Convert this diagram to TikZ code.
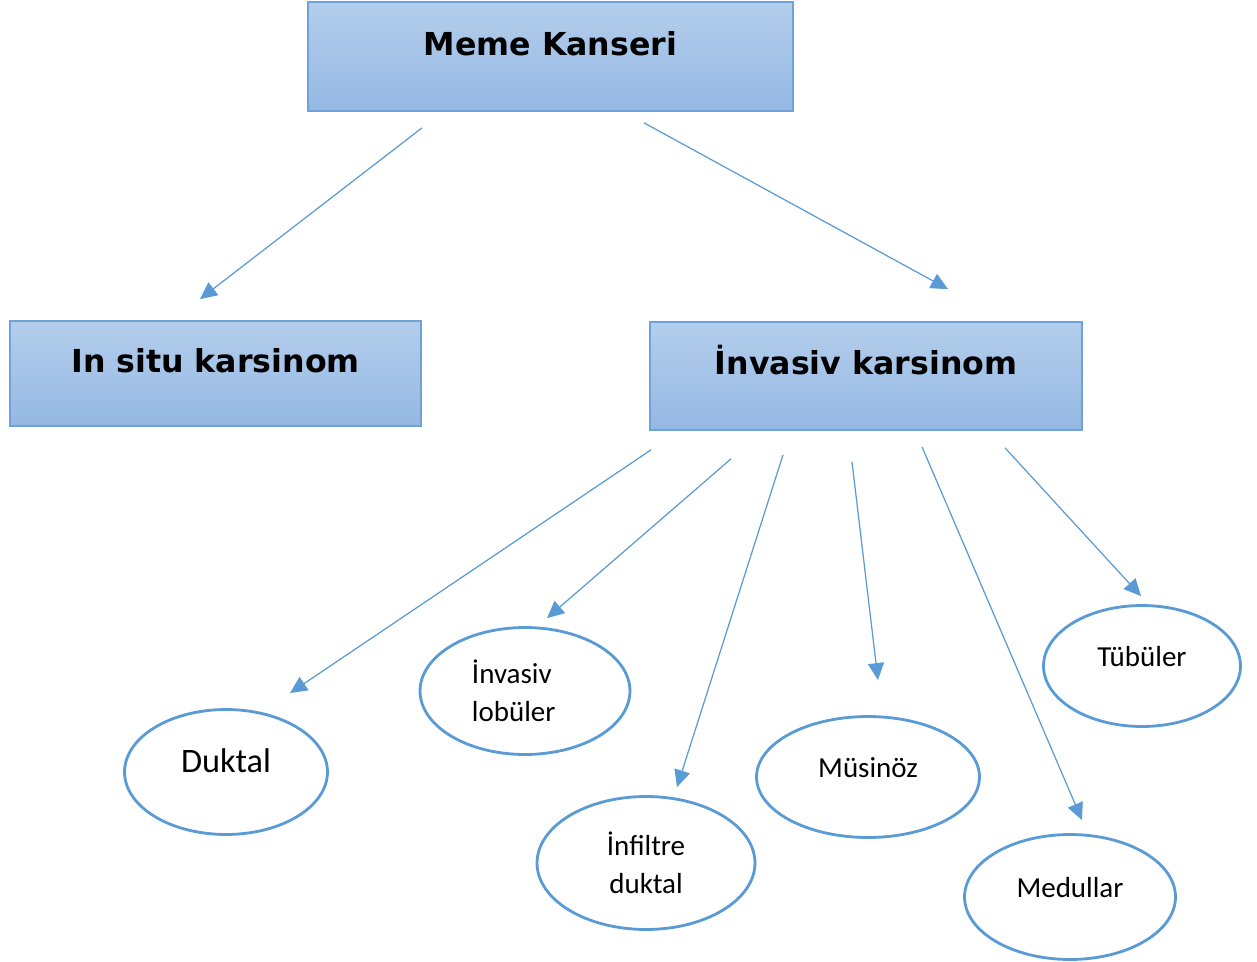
\documentclass[tikz,border=0pt]{standalone}
\usepackage{fontspec}
\usepackage{tikz}
\usetikzlibrary{arrows.meta,calc,shapes.geometric}
\newfontfamily\boxfont{DejaVu Sans}
\newfontfamily\ovalfont{Carlito}
\definecolor{lineblue}{HTML}{5B9BD5}
\definecolor{boxtop}{HTML}{B4CEEC}
\definecolor{boxbottom}{HTML}{94B8E3}
\definecolor{boxedge}{HTML}{6FA2D9}

\begin{document}
\begin{tikzpicture}[
        x=0.02cm, y=-0.02cm,
        box/.style={rectangle, draw=boxedge, line width=1pt, top color=boxtop, bottom color=boxbottom,
            inner sep=0pt, text height=0.45cm, text depth=0.5cm,
            font=\boxfont\bfseries\fontsize{18}{22}\selectfont},
        oval/.style={ellipse, draw=lineblue, line width=1.6pt, fill=white, inner sep=0pt, align=center,
            font=\ovalfont\fontsize{16.5}{21.6}\selectfont},
        oneline/.style={text height=0.4cm, text depth=0.4cm},
        arrow/.style={-{Triangle[length=0.34cm, width=0.32cm]}, draw=lineblue, fill=lineblue, line width=0.7pt}
    ]
        \useasboundingbox (0,0) rectangle (1257,962);

        % Main boxes
        \node[box, minimum width=9.7cm, minimum height=2.18cm] (meme) at (550.5,56.5) {Meme Kanseri};
        \node[box, minimum width=8.22cm, minimum height=2.1cm] (insitu) at (215.5,373.5) {In situ karsinom};
        \node[box, minimum width=8.64cm, minimum height=2.16cm] (invasiv) at (866,376) {İnvasiv karsinom};

        % Subtypes
        \node[oval, oneline, minimum width=4.06cm, minimum height=2.5cm, font=\ovalfont\fontsize{19.5}{23}\selectfont] (duktal) at (226,772) {Duktal};
        \node[oval, align=left, minimum width=4.2cm, minimum height=2.54cm] (lobuler) at (525,691) {İnvasiv\\lobüler\hspace*{0.45cm}};
        \node[oval, minimum width=4.36cm, minimum height=2.66cm] (infiltre) at (646,863) {İnfiltre\\duktal};
        \node[oval, oneline, minimum width=4.46cm, minimum height=2.42cm] (musinoz) at (868,777) {Müsinöz};
        \node[oval, oneline, minimum width=4.22cm, minimum height=2.5cm] (medullar) at (1070,897) {Medullar};
        \node[oval, oneline, minimum width=3.94cm, minimum height=2.42cm] (tubuler) at (1142,666) {Tübüler};

        % Arrows
        \draw[arrow] ($(meme.south)+(-128.5,16)$) -- ($(insitu.north)+(-15.5,-21)$);
        \draw[arrow] ($(meme.south)+(93.5,11)$) -- ($(invasiv.north)+(82,-32)$);
        \draw[arrow] ($(invasiv.south)+(-215,19)$) -- ($(duktal.north)+(64,-15)$);
        \draw[arrow] ($(invasiv.south)+(-135,28)$) -- ($(lobuler.north)+(22,-8)$);
        \draw[arrow] ($(invasiv.south)+(-83,24)$) -- ($(infiltre.north)+(31,-8)$);
        \draw[arrow] ($(invasiv.south)+(-14,31)$) -- ($(musinoz.north)+(10,-35)$);
        \draw[arrow] ($(invasiv.south)+(56,16)$) -- ($(medullar.north)+(12,-13)$);
        \draw[arrow] ($(invasiv.south)+(139,17)$) -- ($(tubuler.north)+(-1,-8)$);

    \end{tikzpicture}
\end{document}
